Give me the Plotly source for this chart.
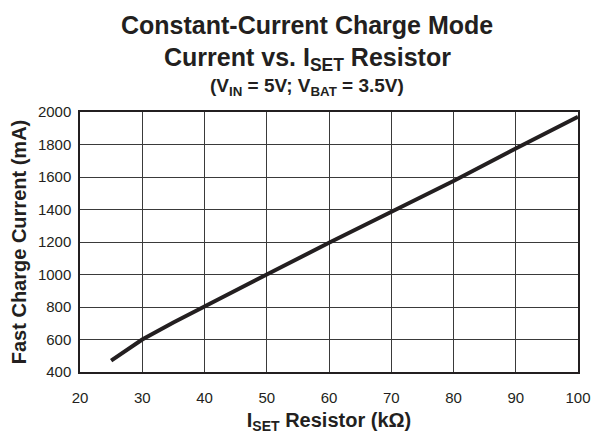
import plotly.graph_objects as go

# ISET resistor (kOhm) vs fast charge current (mA)
resistance_kohm = [25, 30, 35, 40, 50, 60, 70, 80, 90, 100]
current_ma = [470, 600, 705, 805, 1000, 1195, 1385, 1575, 1775, 1970]

x_ticks = [20, 30, 40, 50, 60, 70, 80, 90, 100]
y_ticks = [400, 600, 800, 1000, 1200, 1400, 1600, 1800, 2000]

title_lines = [
    "<b>Constant-Current Charge Mode</b>",
    "<b>Current vs. I<sub>SET</sub> Resistor</b>",
    "<b>(V<sub>IN</sub> = 5V; V<sub>BAT</sub> = 3.5V)</b>",
]

ink = "#231f20"
font = "Liberation Sans, Arial, sans-serif"

fig = go.Figure()
fig.add_trace(
    go.Scatter(
        x=resistance_kohm,
        y=current_ma,
        mode="lines",
        line=dict(color=ink, width=4),
        showlegend=False,
    )
)

# title, three lines
title_y = [1.335, 1.205, 1.095]
title_size = [25, 25, 19]
for text, y, size in zip(title_lines, title_y, title_size):
    fig.add_annotation(
        text=text, xref="paper", yref="paper", x=0.456, y=y,
        xanchor="center", yanchor="middle", showarrow=False,
        font=dict(size=size, color=ink, family=font),
    )

fig.update_xaxes(
    range=[20, 100],
    tickmode="array",
    tickvals=x_ticks,
    ticklabelstandoff=11,
    tickfont=dict(size=15, color=ink),
    showgrid=True,
    gridcolor="#3a3a3a",
    gridwidth=1,
    showline=True,
    linecolor=ink,
    linewidth=1.5,
    mirror=True,
    zeroline=False,
    title=dict(text="<b>I<sub>SET</sub> Resistor (kΩ)</b>", font=dict(size=20, color=ink), standoff=14),
)
fig.update_yaxes(
    range=[400, 2000],
    tickmode="array",
    tickvals=y_ticks,
    ticklabelstandoff=4,
    tickfont=dict(size=15, color=ink),
    showgrid=True,
    gridcolor="#3a3a3a",
    gridwidth=1,
    showline=True,
    linecolor=ink,
    linewidth=1.5,
    mirror=True,
    zeroline=False,
    title=dict(text="<b>Fast Charge Current (mA)</b>", font=dict(size=20, color=ink), standoff=6),
)

fig.update_layout(
    width=591,
    height=434,
    margin=dict(l=80, r=13, t=112, b=62, autoexpand=False),
    paper_bgcolor="white",
    plot_bgcolor="white",
    font=dict(family=font, color=ink),
)

# drop the default page margin so the figure fills the window exactly
fig.write_html(
    "out.html",
    config={"displayModeBar": False},
    post_script="document.body.style.margin='0';document.body.style.overflow='hidden';",
)
